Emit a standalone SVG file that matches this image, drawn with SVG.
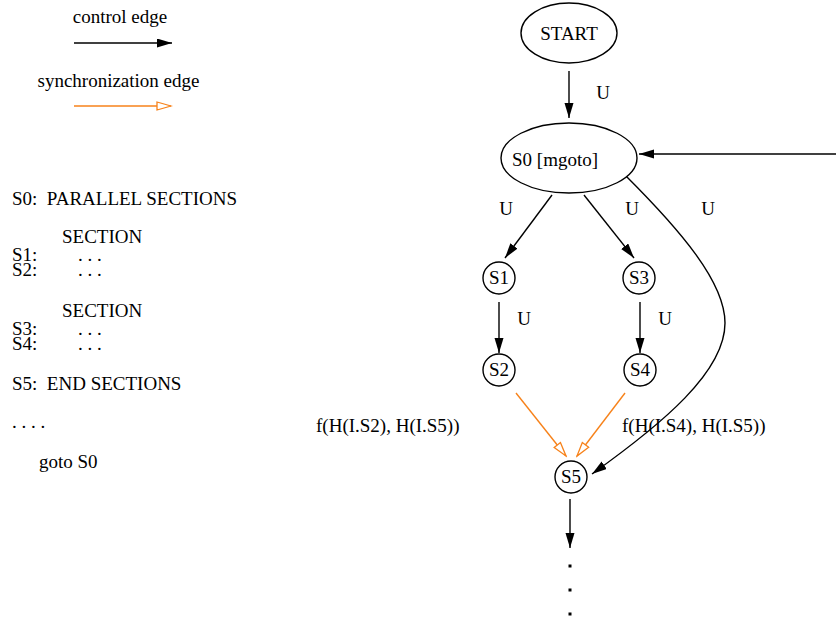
<svg xmlns="http://www.w3.org/2000/svg" width="836" height="621" viewBox="0 0 836 621">
  <style>
    text { font-family: "Liberation Serif", "Times New Roman", serif; font-size: 19px; fill: #000; }
    .mid { text-anchor: middle; }
    .node { fill: #fff; stroke: #000; stroke-width: 1.4; }
    .ctl { fill: none; stroke: #000; stroke-width: 1.4; marker-end: url(#arrow); }
    .sync { fill: none; stroke: #f7821a; stroke-width: 1.4; marker-end: url(#openArrow); }
  </style>
  <defs>
    <marker id="arrow" markerUnits="userSpaceOnUse" markerWidth="16" markerHeight="10" refX="15" refY="4.5" orient="auto">
      <path d="M0,0 L15,4.5 L0,9 z" fill="#000"/>
    </marker>
    <marker id="openArrow" markerUnits="userSpaceOnUse" markerWidth="17" markerHeight="11" refX="15" refY="5" orient="auto">
      <path d="M1,1 L15,5 L1,9 z" fill="#fff" stroke="#f7821a" stroke-width="1.3"/>
    </marker>
  </defs>

  <!-- legend -->
  <g id="legend">
    <text class="mid" x="120" y="23">control edge</text>
    <line class="ctl" x1="74" y1="43" x2="172" y2="43"/>
    <text class="mid" x="118.5" y="87">synchronization edge</text>
    <line class="sync" x1="74" y1="106" x2="171" y2="106"/>
  </g>

  <!-- source listing -->
  <g id="listing">
    <text x="12" y="205" xml:space="preserve">S0:  PARALLEL SECTIONS</text>
    <text x="62" y="243">SECTION</text>
    <text x="12" y="261">S1:</text><text x="78" y="261">. . .</text>
    <text x="12" y="276">S2:</text><text x="78" y="276">. . .</text>
    <text x="62" y="317">SECTION</text>
    <text x="12" y="335">S3:</text><text x="78" y="335">. . .</text>
    <text x="12" y="350">S4:</text><text x="78" y="350">. . .</text>
    <text x="12" y="390" xml:space="preserve">S5:  END SECTIONS</text>
    <text x="12" y="428">. . . .</text>
    <text x="39" y="468">goto S0</text>
  </g>

  <!-- connectors -->
  <g id="edges">
    <line class="ctl" x1="569" y1="71" x2="569" y2="118"/>
    <line class="ctl" x1="836" y1="154" x2="639" y2="154"/>
    <line class="ctl" x1="552" y1="195" x2="505" y2="258"/>
    <line class="ctl" x1="584" y1="195" x2="634" y2="258"/>
    <line class="ctl" x1="499" y1="302" x2="499" y2="353"/>
    <line class="ctl" x1="640" y1="302" x2="640" y2="353"/>
    <path class="ctl" d="M626,176 C680,230 725,282 725,323 C725,372 662,424 592,474"/>
    <line class="sync" x1="516" y1="393" x2="566" y2="456"/>
    <line class="sync" x1="625" y1="393" x2="577" y2="456"/>
    <line class="ctl" x1="570" y1="499" x2="570" y2="548"/>
    <!-- edge labels -->
    <text class="mid" x="603" y="99">U</text>
    <text class="mid" x="506" y="215">U</text>
    <text class="mid" x="632" y="215">U</text>
    <text class="mid" x="708" y="215">U</text>
    <text class="mid" x="524" y="325">U</text>
    <text class="mid" x="665" y="325">U</text>
    <text x="316" y="432">f(H(I.S2), H(I.S5))</text>
    <text x="622" y="432">f(H(I.S4), H(I.S5))</text>
    <!-- continuation dots -->
    <rect x="568.5" y="564.5" width="3" height="3"/>
    <rect x="568.5" y="588.5" width="3" height="3"/>
    <rect x="568.5" y="612.5" width="3" height="3"/>
  </g>

  <!-- nodes -->
  <g id="START">
    <ellipse class="node" cx="569" cy="33" rx="48" ry="30"/>
    <text class="mid" x="569" y="40">START</text>
  </g>
  <g id="S0">
    <ellipse class="node" cx="569" cy="158" rx="68" ry="35"/>
    <text class="mid" x="555" y="166">S0 [mgoto]</text>
  </g>
  <g id="S1">
    <circle class="node" cx="499" cy="278" r="16"/>
    <text class="mid" x="499" y="284">S1</text>
  </g>
  <g id="S2">
    <circle class="node" cx="499" cy="370" r="16"/>
    <text class="mid" x="499" y="376">S2</text>
  </g>
  <g id="S3">
    <circle class="node" cx="639" cy="278" r="16"/>
    <text class="mid" x="639" y="284">S3</text>
  </g>
  <g id="S4">
    <circle class="node" cx="640" cy="370" r="16"/>
    <text class="mid" x="640" y="376">S4</text>
  </g>
  <g id="S5">
    <circle class="node" cx="571" cy="477" r="16"/>
    <text class="mid" x="571" y="483">S5</text>
  </g>
</svg>
